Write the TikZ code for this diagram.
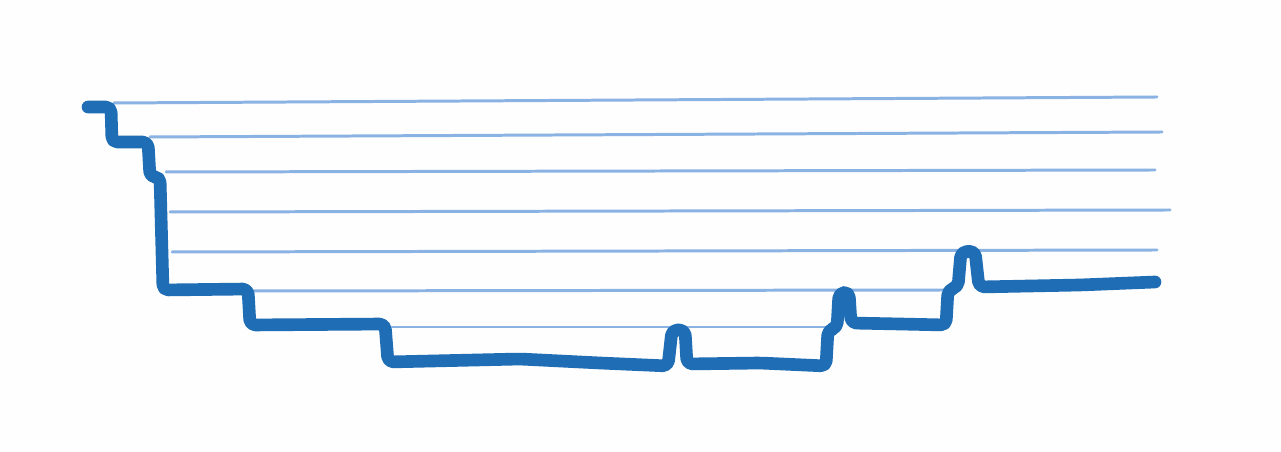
\documentclass[tikz,border=0pt]{standalone}
\usepackage{xcolor}
\usepackage{tikz}
\definecolor{trace}{HTML}{1F6DB5}
\definecolor{rule}{HTML}{8AB3E4}
\definecolor{paper}{HTML}{FDFEFD}
\begin{document}
\begin{tikzpicture}[
  x=0.01cm, y=-0.01cm,
  rungline/.style={draw=rule, line width=0.85pt, line cap=round},
  profile/.style={draw=trace, line width=3.6pt, line cap=round, line join=round, rounded corners=1.5pt}
]
\fill[paper] (0,0) rectangle (1281,452);
\useasboundingbox (0,0) rectangle (1281,452);

% ---- level lines ----
\draw[rungline] (114,103) -- (1157,97);
\draw[rungline] (150,137) -- (1162,132);
\draw[rungline] (166,172) -- (1155,170);
\draw[rungline] (170,212) -- (1170,210);
\draw[rungline] (172,252) -- (1157,250);
\draw[rungline] (252,291) -- (947,290);
\draw[rungline] (392,327) -- (830,327);

% ---- step profile ----
\draw[profile] (88,107) -- (111,107) -- (112,142) -- (148,142) -- (150,177)
  -- (160,177) -- (163,290) -- (248,289) -- (250,325) -- (385,324)
  -- (388,362) -- (520,359) -- (600,363) -- (668,366) -- (672,330)
  -- (685,330) -- (687,364) -- (760,363) -- (826,366) -- (828,330)
  -- (837,328) -- (839,293) -- (849,292) -- (851,323) -- (900,324)
  -- (946,325) -- (948,290) -- (958,287) -- (961,252) -- (975,251)
  -- (979,287) -- (1080,285) -- (1155,282);
\end{tikzpicture}
\end{document}
